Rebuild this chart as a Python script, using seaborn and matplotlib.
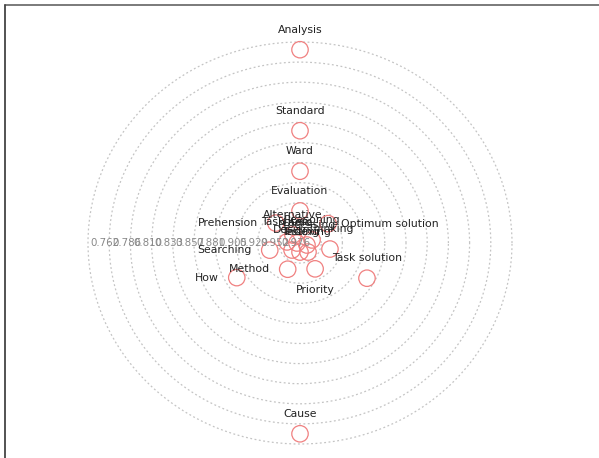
import numpy as np
import pandas as pd
import matplotlib
matplotlib.use("Agg")
import matplotlib.pyplot as plt
import seaborn as sns
from matplotlib.lines import Line2D

# ---- data ----
labels = ["Analysis", "Standard", "Ward", "Evaluation", "Cause",
          "Prehension", "Optimum solution", "Searching", "How", "Method",
          "Priority", "Task solution", "Thinking",
          "Alternative", "Task item", "Logic", "Processing", "Reasoning",
          "Design", "Testing", "Indexing"]
values = [0.771, 0.867, 0.915, 0.962, 0.774,
          0.964, 0.961, 0.965, 0.918, 0.966,
          0.965, 0.914, 0.9656,
          0.9877, 0.9854, 0.9966, 0.9918, 0.986,
          0.9878, 0.9893, 0.986]
angles_deg = [90, 90, 90, 90, 270,
              139, 36, 194, 210, 246,
              299, 331, 348,
              130, 175, 180, 343, 15,
              223, 270, 310]
tick_values = [32/42, 33/42, 34/42, 35/42, 36/42, 37/42, 38/42, 39/42, 40/42, 41/42]
tick_labels = ["0.762", "0.786", "0.810", "0.833", "0.857", "0.881", "0.905", "0.929", "0.952", "0.976"]

# label placement (layout)
label_side = ["top", "top", "top", "top", "top",
              "left", "right", "left", "left", "left",
              "bottom", "top", "top",
              "top", "top", "top", "top", "top",
              "top", "top", "top"]

df = pd.DataFrame({"label": labels, "value": values,
                   "theta": np.deg2rad(angles_deg), "side": label_side})

sns.set_theme(style="white")
plt.rcParams["font.family"] = ["DejaVu Sans"]

r_edge = 0.760
fig = plt.figure(figsize=(5.99, 4.58), dpi=100)
hw, hh = 213.7, 202.6
ax = fig.add_axes([(300 - hw) / 599, (458 - 243 - hh) / 458, 2 * hw / 599, 2 * hh / 458],
                  projection="polar")
ax.set_aspect("auto")
ax.set_facecolor("none")

sns.scatterplot(data=df, x="theta", y="value", ax=ax, s=140,
                facecolor="none", edgecolor="#F08080", linewidth=0.9,
                legend=False, zorder=3)

ax.set_ylim(1.0, r_edge)
ax.set_yticks(tick_values)
ax.set_yticklabels([])
ax.set_xticks([])
ax.yaxis.grid(True, color="#c4c4c4", linestyle=(0, (1.5, 2)), linewidth=0.9)
ax.xaxis.grid(False)
ax.spines["polar"].set_visible(False)
ax.set_xlabel("")
ax.set_ylabel("")

for tv, tl in zip(tick_values, tick_labels):
    ax.annotate(tl, xy=(np.pi, tv), xytext=(2, 0), textcoords="offset points",
                ha="left", va="center", fontsize=7.4, color="#888888")

offsets = {"top": ((0, 14.5), "center", "center"),
           "bottom": ((0, -15), "center", "center"),
           "left": ((-13, 0), "right", "center"),
           "right": ((9, 0), "left", "center")}
for _, row in df.iterrows():
    (dx, dy), ha, va = offsets[row["side"]]
    ax.annotate(row["label"], xy=(row["theta"], row["value"]), xytext=(dx, dy),
                textcoords="offset points", ha=ha, va=va, fontsize=7.8,
                color="#222222", zorder=4)

# outer frame lines (top and left)
fig.add_artist(Line2D([4.5/599, 1.0], [1 - 5/458, 1 - 5/458], color="#707070",
                      linewidth=1.3, transform=fig.transFigure))
fig.add_artist(Line2D([4.5/599, 4.5/599], [0, 1 - 5/458], color="#444444",
                      linewidth=1.3, transform=fig.transFigure))

fig.savefig("out.png", dpi=100)
